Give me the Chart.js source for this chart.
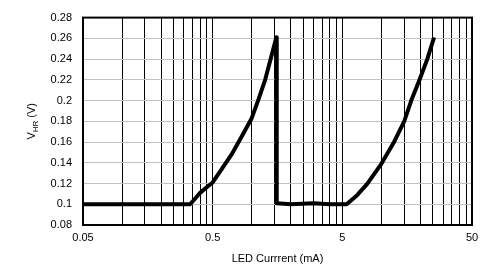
<!DOCTYPE html>
<html>
<head>
<meta charset="utf-8">
<script src="https://cdn.jsdelivr.net/npm/chart.js@4"></script>
<style>
  html, body { margin: 0; padding: 0; background: #fff; }
  #wrap { width: 490px; height: 267px; }
</style>
</head>
<body>
<div id="wrap"><canvas id="myChart" width="490" height="267"></canvas></div>
<script>
// LED current (mA) and headroom voltage (V)
const ledCurrent = [0.05, 0.335, 0.35, 0.40, 0.45, 0.50, 0.585, 0.70, 0.835, 1.00, 1.12, 1.27, 1.40, 1.55,
                    1.56, 2.0, 3.0, 4.0, 5.4,
                    6.5, 7.75, 10, 12.4, 15, 17, 19.7, 22.6, 25.5];
const vhr = [0.100, 0.100, 0.1027, 0.111, 0.1164, 0.121, 0.1336, 0.148, 0.165, 0.183, 0.200, 0.220, 0.240, 0.261,
             0.101, 0.100, 0.101, 0.100, 0.100,
             0.1088, 0.1194, 0.139, 0.159, 0.180, 0.200, 0.220, 0.240, 0.261];

// x gridlines: every multiple within each decade starting at 0.05
const decadeStarts = [0.05, 0.5, 5];
const xTickLabels = ['0.05', '0.5', '5', '50'];
const yMin = 0.08, yMax = 0.28, yStep = 0.02;

const xGridValues = [];
decadeStarts.forEach(d => {
    for (let k = 1; k <= 9; k++) xGridValues.push(+(d * k).toPrecision(6));
});
xGridValues.push(50);

const font = { family: '"Liberation Sans", Arial, sans-serif', size: 11 };

// frame around plot area + rotated y title with subscript
const framePlugin = {
    id: 'frame',
    afterDraw(chart) {
        const { ctx, chartArea: a } = chart;
        ctx.save();
        ctx.strokeStyle = '#000';
        ctx.lineWidth = 2;
        ctx.strokeRect(a.left, a.top, a.right - a.left, a.bottom - a.top);

        ctx.translate(35, (a.top + a.bottom) / 2);
        ctx.rotate(-Math.PI / 2);
        ctx.fillStyle = '#000';
        ctx.textBaseline = 'alphabetic';
        const big = '11px "Liberation Sans", Arial, sans-serif';
        const small = '8px "Liberation Sans", Arial, sans-serif';
        ctx.font = big;
        const w1 = ctx.measureText('V').width, w3 = ctx.measureText(' (V)').width;
        ctx.font = small;
        const subW = ctx.measureText('HR').width;
        let x = -(w1 + subW + w3) / 2;
        ctx.font = big;
        ctx.fillText('V', x, 0);
        x += w1;
        ctx.font = small;
        ctx.fillText('HR', x, 3);
        x += subW;
        ctx.font = big;
        ctx.fillText(' (V)', x, 0);
        ctx.restore();
    }
};

const ctx = document.getElementById('myChart').getContext('2d');
const myChart = new Chart(ctx, {
    type: 'line',
    data: {
        datasets: [{
            data: ledCurrent.map((c, i) => ({ x: c, y: vhr[i] })),
            borderColor: '#000',
            borderWidth: 4,
            borderJoinStyle: 'round',
            borderCapStyle: 'butt',
            pointRadius: 0,
            tension: 0,
            fill: false
        }]
    },
    options: {
        responsive: false,
        animation: false,
        layout: { padding: { left: 0, right: 18, top: 5, bottom: 0 } },
        plugins: {
            legend: { display: false },
            tooltip: { enabled: false }
        },
        scales: {
            x: {
                type: 'logarithmic',
                min: 0.05,
                max: 50,
                afterBuildTicks: scale => {
                    scale.ticks = xGridValues.map(v => ({ value: v }));
                },
                afterFit: scale => { scale.height = 42; },
                grid: { color: '#000', lineWidth: 1, drawTicks: false },
                border: { display: false },
                ticks: {
                    autoSkip: false,
                    maxRotation: 0,
                    padding: 6,
                    color: '#000',
                    font: font,
                    callback: function (value) {
                        const s = String(+value.toPrecision(6));
                        return xTickLabels.includes(s) ? s : '';
                    }
                },
                title: {
                    display: true,
                    text: 'LED Currrent (mA)',
                    color: '#000',
                    font: font,
                    padding: { top: 4, bottom: 1 }
                }
            },
            y: {
                min: yMin,
                max: yMax,
                afterFit: scale => { scale.width = 83; },
                grid: { color: '#c0c0c0', lineWidth: 1, drawTicks: false },
                border: { display: false },
                ticks: {
                    stepSize: yStep,
                    padding: 11,
                    color: '#000',
                    font: font,
                    callback: v => String(+v.toFixed(2))
                }
            }
        }
    },
    plugins: [framePlugin]
});
</script>
</body>
</html>
